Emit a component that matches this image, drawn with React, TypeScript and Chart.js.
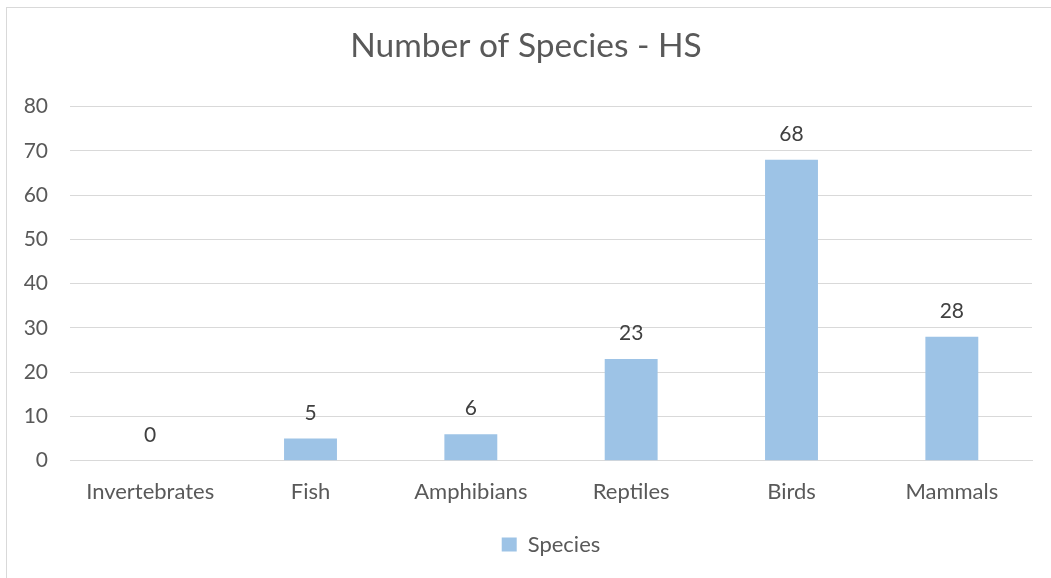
import React, { useEffect, useRef } from "react";
import { Chart, registerables } from "chart.js";

Chart.register(...registerables);

const categories = ["Invertebrates", "Fish", "Amphibians", "Reptiles", "Birds", "Mammals"];
const speciesValues = [0, 5, 6, 23, 68, 28];
const seriesName = "Species";
const chartTitle = "Number of Species - HS";
const yMin = 0;
const yMax = 80;
const yStep = 10;

const FONT = "Lato, 'Open Sans', sans-serif";
const TEXT = "#595959";
const GRID = "#d9d9d9";
const BAR = "#9dc3e6";

const dataLabels = {
  id: "dataLabels",
  afterDatasetsDraw(chart: any) {
    const ctx = chart.ctx;
    const meta = chart.getDatasetMeta(0);
    ctx.save();
    ctx.font = `21px ${FONT}`;
    ctx.fillStyle = "#404040";
    ctx.textAlign = "center";
    ctx.textBaseline = "alphabetic";
    meta.data.forEach((el: any, i: number) => {
      const v = chart.data.datasets[0].data[i];
      ctx.fillText(String(v), el.x, el.y - 19);
    });
    ctx.restore();
  },
};

export default function App() {
  const ref = useRef<HTMLCanvasElement>(null);
  useEffect(() => {
    if (!ref.current) return;
    const chart = new Chart(ref.current, {
      type: "bar",
      data: {
        labels: categories,
        datasets: [
          {
            label: seriesName,
            data: speciesValues,
            backgroundColor: BAR,
            borderWidth: 0,
            barPercentage: 0.33,
            categoryPercentage: 1,
          },
        ],
      },
      options: {
        responsive: false,
        animation: false,
        layout: { padding: { left: 20, right: 19, top: 0, bottom: 12.5 } },
        plugins: {
          title: {
            display: true,
            text: chartTitle,
            color: TEXT,
            font: { family: FONT, size: 33.5, weight: "normal", lineHeight: 1.2 },
            padding: { top: 26, bottom: 40.4 },
          },
          legend: {
            display: true,
            position: "bottom",
            fullSize: false,
            labels: {
              color: TEXT,
              font: { family: FONT, size: 22 },
              boxWidth: 15,
              boxHeight: 14,
              padding: 10,
            },
          },
          tooltip: { enabled: false },
        },
        scales: {
          x: {
            grid: { display: false, drawTicks: false },
            border: { display: true, color: GRID },
            ticks: { color: TEXT, font: { family: FONT, size: 22 }, padding: 18, maxRotation: 0 },
            afterFit: (s: any) => {
              s.height = 62.8;
            },
          },
          y: {
            min: yMin,
            max: yMax,
            grid: { color: GRID, drawTicks: false },
            border: { display: false },
            ticks: { stepSize: yStep, color: TEXT, font: { family: FONT, size: 21 }, padding: 22 },
            afterFit: (s: any) => {
              s.width = 50;
            },
          },
        },
      },
      plugins: [dataLabels],
    });
    return () => chart.destroy();
  }, []);
  return (
    <div>
      <div
        style={{
          position: "fixed",
          left: 6,
          top: 7,
          right: 0,
          bottom: 0,
          borderTop: "1px solid #d9d9d9",
          borderLeft: "1px solid #d9d9d9",
          pointerEvents: "none",
        }}
      />
      <canvas
        ref={ref}
        width={1051}
        height={578}
        style={{ position: "fixed", left: 0, top: 0, width: 1051, height: 578 }}
      />
    </div>
  );
}
